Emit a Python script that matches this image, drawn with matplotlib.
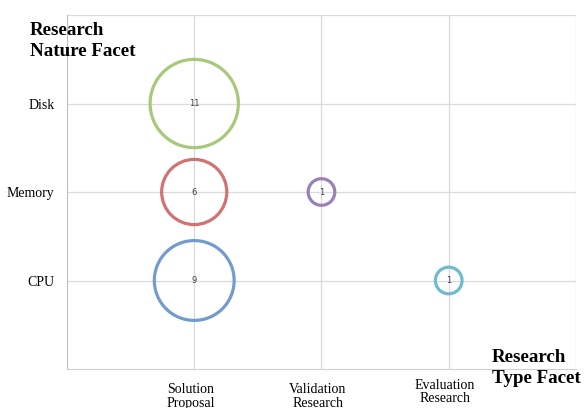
import numpy as np
import matplotlib
matplotlib.use("Agg")
import matplotlib.pyplot as plt

# categories and bubble data
type_labels = ["Solution\nProposal", "Validation\nResearch", "Evaluation\nResearch"]
nature_labels = ["CPU", "Memory", "Disk"]

bubble_type = [0, 0, 0, 1, 2]        # index into type_labels
bubble_nature = [2, 1, 0, 1, 0]      # index into nature_labels
bubble_count = [11, 6, 9, 1, 1]
bubble_colors = ["#A8C87A", "#D27272", "#729BD0", "#9A80B8", "#6CBBD0"]

fig = plt.figure(figsize=(5.85, 4.08), dpi=100)
ax = fig.add_axes([0.1145, 0.0956, 0.8701, 0.8676])

x = np.array(bubble_type) + 1
y = np.array(bubble_nature) + 1
sizes = 367 * np.array(bubble_count)

ax.scatter(x, y, s=sizes, facecolors="none", edgecolors=bubble_colors,
           linewidths=2.3, zorder=3)
for xi, yi, c in zip(x, y, bubble_count):
    ax.text(xi, yi, str(c), ha="center", va="center", fontsize=6,
            family="DejaVu Sans", color="#404040", zorder=4)

ax.set_xlim(0, 4)
ax.set_ylim(0, 4)
ax.set_xticks([1, 2, 3, 4])
ax.set_yticks([1, 2, 3, 4])
ax.set_xticklabels([])
ax.set_yticklabels(nature_labels + [""], family="Liberation Serif", fontsize=10)
ax.tick_params(length=0, pad=9)
ax.grid(True, color="#DADADA", linewidth=0.9)
ax.set_axisbelow(True)
for side in ["top", "right"]:
    ax.spines[side].set_visible(False)
ax.spines["left"].set_color("#BFBFBF")
ax.spines["bottom"].set_color("#D0D0D0")

# x category labels (Evaluation sits a bit higher in the original)
label_y = [-0.16, -0.16, -0.11]
for i, lab in enumerate(type_labels):
    ax.text(i + 0.97, label_y[i], lab, ha="center", va="top", fontsize=10,
            family="Liberation Serif", linespacing=1.05, clip_on=False)

fig.text(30 / 585, 1 - 22 / 408, "Research\nNature Facet", ha="left", va="top",
         fontsize=13.7, fontweight="bold", family="Liberation Serif", linespacing=1.3)
fig.text(492 / 585, 1 - 349 / 408, "Research\nType Facet", ha="left", va="top",
         fontsize=13.7, fontweight="bold", family="Liberation Serif", linespacing=1.3)

fig.savefig("out.png", dpi=100)
